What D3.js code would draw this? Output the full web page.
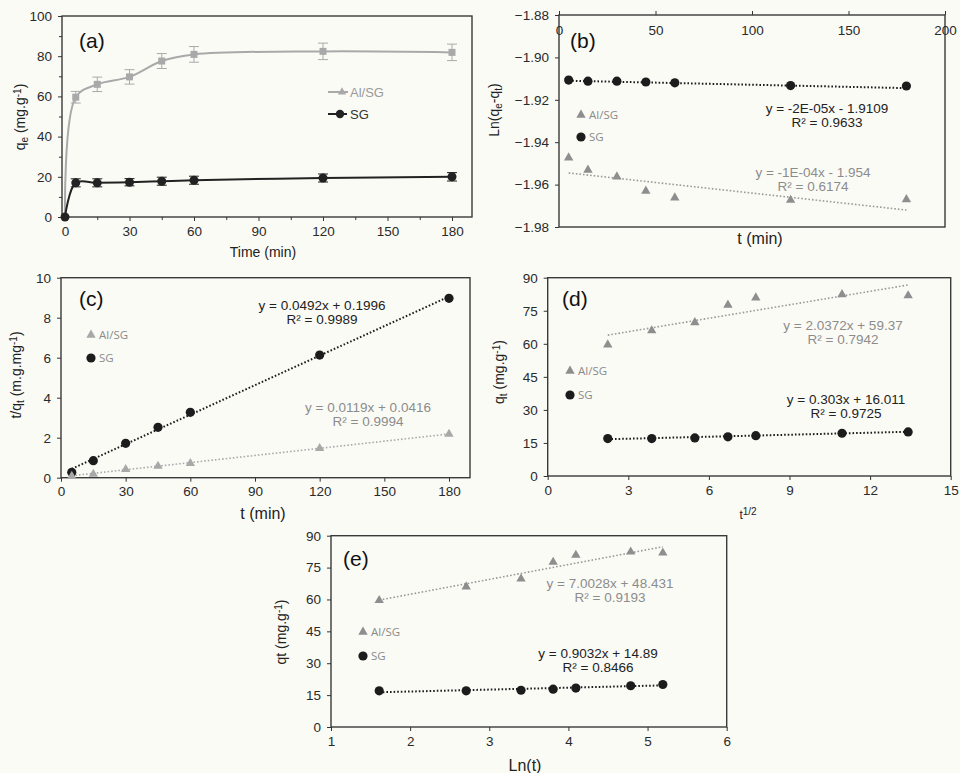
<!DOCTYPE html>
<html>
<head>
<meta charset="utf-8">
<title>Adsorption kinetics Al/SG vs SG</title>
<script src="https://d3js.org/d3.v7.min.js"></script>
<style>
  body { margin: 0; background: #fbfbf6; }
  svg { display: block; font-family: "Liberation Sans", Arial, sans-serif; }
  .tick text { font-size: 13.5px; fill: #2a2a2a; }
  .tick line { stroke: #333; }
  .frame { fill: none; stroke: #3a3a3a; stroke-width: 1.4; }
  .atitle { font-size: 14px; fill: #222; }
  .plabel { font-size: 21px; fill: #111; }
  .leg { font-family: "Open Sans", sans-serif; font-size: 11.5px; fill: #8a8a8a; }
  .eq { font-size: 13.5px; text-anchor: middle; }
</style>
</head>
<body>
<svg width="960" height="773"></svg>
<script>
// ---- data ----
// (a) contact time
const tMin  = [0, 5, 15, 30, 45, 60, 120, 180];
const qAl   = [0, 59.6, 66, 69.7, 77.6, 80.9, 82.4, 81.9];
const qSG   = [0, 17, 17, 17.3, 17.8, 18.3, 19.4, 20];
const errAl = [0, 2.9, 3.6, 3.6, 3.7, 3.9, 4.1, 4.1];
const errSG = [0, 2, 2, 1.8, 2, 2, 2, 2.1];

// kinetic models (t > 0)
const tFit  = [5, 15, 30, 45, 60, 120, 180];
const lnAl  = [-1.9473, -1.9531, -1.9563, -1.963, -1.9662, -1.9673, -1.967];
const lnSG  = [-1.9107, -1.9112, -1.9112, -1.9116, -1.912, -1.9133, -1.9135];
const tqAl  = [0.08, 0.18, 0.42, 0.58, 0.72, 1.47, 2.18];
const tqSG  = [0.27, 0.85, 1.72, 2.52, 3.27, 6.13, 8.97];
const sqrtT = [2.236, 3.873, 5.477, 6.708, 7.746, 10.954, 13.416];
const lnT   = [1.609, 2.708, 3.401, 3.807, 4.094, 4.787, 5.193];
const qtAl  = [59.6, 66, 69.7, 77.6, 80.9, 82.4, 81.9];
const qtSG  = [17, 17, 17.3, 17.8, 18.3, 19.4, 20];

// trend lines: [slope, intercept] as printed
const fitB = { al: [-1e-4, -1.954],  sg: [-2e-5, -1.9109] };
const fitC = { al: [0.0119, 0.0416], sg: [0.0492, 0.1996] };
const fitD = { al: [2.0372, 59.37],  sg: [0.303, 16.011] };
const fitE = { al: [7.0028, 48.431], sg: [0.9032, 14.89] };

const eqB = { al: ["y = -1E-04x - 1.954", "R² = 0.6174"], sg: ["y = -2E-05x - 1.9109", "R² = 0.9633"] };
const eqC = { al: ["y = 0.0119x + 0.0416", "R² = 0.9994"], sg: ["y = 0.0492x + 0.1996", "R² = 0.9989"] };
const eqD = { al: ["y = 2.0372x + 59.37", "R² = 0.7942"], sg: ["y = 0.303x + 16.011", "R² = 0.9725"] };
const eqE = { al: ["y = 7.0028x + 48.431", "R² = 0.9193"], sg: ["y = 0.9032x + 14.89", "R² = 0.8466"] };

const seriesNames = ["Al/SG", "SG"];

const AL_COL = "#8e8e8e", SG_COL = "#1c1c1c";
const svg = d3.select("svg");

// axis frame + ticks helper
function frame(box, x, y, o) {
  const g = svg.append("g");
  g.append("rect").attr("class", "frame")
    .attr("x", box[0]).attr("y", box[1])
    .attr("width", box[2] - box[0]).attr("height", box[3] - box[1]);
  const xa = (o.top ? d3.axisTop(x) : d3.axisBottom(x))
    .tickValues(o.xt).tickSize(4).tickSizeOuter(0).tickPadding(5)
    .tickFormat(o.xf || d3.format("d"));
  const gx = g.append("g").attr("transform", `translate(0,${o.top ? box[1] : box[3]})`).call(xa);
  gx.select(".domain").remove();
  if (o.top) gx.selectAll("text").attr("y", 10).attr("dy", "0.71em");
  const ya = d3.axisLeft(y).tickValues(o.yt).tickSize(4).tickSizeOuter(0).tickPadding(6)
    .tickFormat(o.yf || d3.format("d"));
  const gy = g.append("g").attr("transform", `translate(${box[0]},0)`).call(ya);
  gy.select(".domain").remove();
  if (o.xm) {
    const m = g.append("g").attr("transform", `translate(0,${box[3]})`)
      .call(d3.axisBottom(x).tickValues(o.xm).tickSize(3).tickFormat(""));
    m.select(".domain").remove();
  }
  if (o.ym) {
    const m = g.append("g").attr("transform", `translate(${box[0]},0)`)
      .call(d3.axisLeft(y).tickValues(o.ym).tickSize(3).tickFormat(""));
    m.select(".domain").remove();
  }
  return g;
}

function yTitle(cx, cy, parts) {
  const t = svg.append("text").attr("class", "atitle")
    .attr("transform", `translate(${cx},${cy}) rotate(-90)`)
    .attr("text-anchor", "middle").attr("dy", "0.35em");
  parts.forEach(p => {
    const s = t.append("tspan").text(p[0]);
    if (p[1] === "sub") s.attr("font-size", "10px").attr("baseline-shift", "-25%");
    if (p[1] === "sup") s.attr("font-size", "10px").attr("baseline-shift", "40%");
  });
}
function xTitle(cx, cy, txt, size) {
  svg.append("text").attr("class", "atitle").attr("x", cx).attr("y", cy)
    .attr("text-anchor", "middle").style("font-size", (size || 14) + "px").text(txt);
}
function panelLabel(x0, y0, txt) {
  svg.append("text").attr("class", "plabel").attr("x", x0).attr("y", y0).text(txt);
}

const tri = d3.symbol(d3.symbolTriangle, 38);

function scatter(x, y, xs, ys, kind, col) {
  xs.forEach((v, i) => {
    if (kind === "tri") {
      svg.append("path").attr("d", tri())
        .attr("transform", `translate(${x(v)},${y(ys[i])})`).attr("fill", col);
    } else {
      svg.append("circle").attr("cx", x(v)).attr("cy", y(ys[i])).attr("r", 4.6).attr("fill", col);
    }
  });
}
function trend(x, y, xs, fit, col, w) {
  const a = d3.min(xs), b = d3.max(xs);
  svg.append("line")
    .attr("x1", x(a)).attr("y1", y(fit[0] * a + fit[1]))
    .attr("x2", x(b)).attr("y2", y(fit[0] * b + fit[1]))
    .attr("stroke", col).attr("stroke-width", w).attr("stroke-dasharray", "1.6,2");
}
function equation(cx, cy, lines, col) {
  lines.forEach((l, i) => {
    svg.append("text").attr("class", "eq").attr("x", cx).attr("y", cy + i * 14)
      .attr("fill", col).text(l);
  });
}
function legend(x0, y0, gap, alCol) {
  svg.append("path").attr("d", tri()).attr("transform", `translate(${x0},${y0})`).attr("fill", alCol);
  svg.append("text").attr("class", "leg").attr("x", x0 + 8).attr("y", y0).attr("dy", "0.35em").text(seriesNames[0]);
  svg.append("circle").attr("cx", x0).attr("cy", y0 + gap).attr("r", 4.6).attr("fill", SG_COL);
  svg.append("text").attr("class", "leg").attr("x", x0 + 8).attr("y", y0 + gap).attr("dy", "0.35em").text(seriesNames[1]);
}

// ---------- (a) ----------
{
  const x = d3.scaleLinear().domain([0, 180]).range([65, 452]);
  const y = d3.scaleLinear().domain([0, 100]).range([217, 16]);
  frame([62, 16, 472, 217], x, y, {
    xt: d3.range(0, 181, 30), xm: d3.range(15, 190, 30),
    yt: d3.range(0, 101, 20), ym: d3.range(10, 100, 20)
  });
  const line = d3.line().x((d, i) => x(tMin[i])).y(d => y(d)).curve(d3.curveCatmullRom.alpha(0.5));
  [[qAl, errAl, "#a9a9a9"], [qSG, errSG, "#222"]].forEach(([q, e, col]) => {
    svg.append("path").attr("d", line(q)).attr("fill", "none").attr("stroke", col).attr("stroke-width", 2);
    q.forEach((v, i) => {
      if (!e[i]) return;
      const cx = x(tMin[i]);
      svg.append("path")
        .attr("d", `M${cx - 5},${y(v + e[i])}H${cx + 5}M${cx},${y(v + e[i])}V${y(v - e[i])}M${cx - 5},${y(v - e[i])}H${cx + 5}`)
        .attr("stroke", col).attr("stroke-width", 1).attr("fill", "none");
    });
  });
  qAl.forEach((v, i) => {
    if (i === 0) return;
    svg.append("rect").attr("x", x(tMin[i]) - 3.5).attr("y", y(v) - 3.5)
      .attr("width", 7).attr("height", 7).attr("fill", "#a9a9a9");
  });
  qSG.forEach((v, i) => {
    svg.append("circle").attr("cx", x(tMin[i])).attr("cy", y(v)).attr("r", 4.5).attr("fill", "#222");
  });
  // legend
  svg.append("line").attr("x1", 328).attr("x2", 348).attr("y1", 92).attr("y2", 92).attr("stroke", "#a9a9a9").attr("stroke-width", 2);
  svg.append("path").attr("d", d3.symbol(d3.symbolTriangle, 30)()).attr("transform", "translate(342,92)").attr("fill", "#a9a9a9");
  svg.append("text").attr("x", 350).attr("y", 92).attr("dy", "0.35em").style("font-size", "13px").attr("fill", "#9a9a9a").text(seriesNames[0]);
  svg.append("line").attr("x1", 328).attr("x2", 347).attr("y1", 114).attr("y2", 114).attr("stroke", "#222").attr("stroke-width", 2);
  svg.append("circle").attr("cx", 340).attr("cy", 114).attr("r", 4.2).attr("fill", "#222");
  svg.append("text").attr("x", 350).attr("y", 114).attr("dy", "0.35em").style("font-size", "13px").attr("fill", "#333").text(seriesNames[1]);
  yTitle(20, 117, [["q"], ["e", "sub"], [" (mg.g"], ["-1", "sup"], [")"]]);
  xTitle(263, 257, "Time (min)");
  panelLabel(79, 48, "(a)");
}

// ---------- (b) ----------
{
  const x = d3.scaleLinear().domain([0, 200]).range([559, 945]);
  const y = d3.scaleLinear().domain([-1.98, -1.88]).range([227, 15]);
  frame([559, 15, 945, 227], x, y, {
    top: true, xt: d3.range(0, 201, 50),
    yt: d3.range(-1.98, -1.879, 0.02), yf: d3.format(".2f")
  });
  trend(x, y, tFit, fitB.sg, SG_COL, 2);
  trend(x, y, tFit, fitB.al, "#9a9a9a", 1.6);
  scatter(x, y, tFit, lnSG, "dot", SG_COL);
  scatter(x, y, tFit, lnAl, "tri", AL_COL);
  equation(827, 113, eqB.sg, "#222");
  equation(813, 177, eqB.al, "#8c8c8c");
  legend(581, 115, 22, AL_COL);
  yTitle(494, 110, [["Ln(q"], ["e", "sub"], ["-q"], ["t", "sub"], [")"]]);
  xTitle(760, 244, "t (min)", 16);
  panelLabel(570, 48, "(b)");
}

// ---------- (c) ----------
{
  const x = d3.scaleLinear().domain([0, 180]).range([61, 449]);
  const y = d3.scaleLinear().domain([0, 10]).range([477.7, 277.7]);
  frame([61, 277.7, 470, 477.7], x, y, {
    xt: d3.range(0, 181, 30), yt: d3.range(0, 11, 2)
  });
  trend(x, y, tFit, fitC.sg, SG_COL, 2);
  trend(x, y, tFit, fitC.al, "#aaaaaa", 1.6);
  scatter(x, y, tFit, tqSG, "dot", SG_COL);
  scatter(x, y, tFit, tqAl, "tri", "#a8a8a8");
  equation(322, 310, eqC.sg, "#222");
  equation(368, 412, eqC.al, "#8c8c8c");
  legend(91, 335, 23, "#a8a8a8");
  yTitle(16, 375, [["t/q"], ["t", "sub"], [" (m.g.mg"], ["-1", "sup"], [")"]]);
  xTitle(263, 519, "t (min)", 16);
  panelLabel(79, 306, "(c)");
}

// ---------- (d) ----------
{
  const x = d3.scaleLinear().domain([0, 15]).range([547.7, 950.7]);
  const y = d3.scaleLinear().domain([0, 90]).range([476, 277.7]);
  frame([547.7, 277.7, 950.7, 476], x, y, {
    xt: d3.range(0, 16, 3), yt: d3.range(0, 91, 15)
  });
  trend(x, y, sqrtT, fitD.sg, SG_COL, 2);
  trend(x, y, sqrtT, fitD.al, "#9a9a9a", 1.6);
  scatter(x, y, sqrtT, qtSG, "dot", SG_COL);
  scatter(x, y, sqrtT, qtAl, "tri", AL_COL);
  equation(846, 404, eqD.sg, "#222");
  equation(843, 330, eqD.al, "#8c8c8c");
  legend(570, 371, 24, AL_COL);
  yTitle(499, 372, [["q"], ["t", "sub"], [" (mg.g"], ["-1", "sup"], [")"]]);
  const xt = svg.append("text").attr("class", "atitle").attr("x", 748).attr("y", 519)
    .attr("text-anchor", "middle").style("font-size", "12px");
  xt.append("tspan").text("t");
  xt.append("tspan").attr("font-size", "10px").attr("baseline-shift", "45%").text("1/2");
  panelLabel(562, 306, "(d)");
}

// ---------- (e) ----------
{
  const x = d3.scaleLinear().domain([1, 6]).range([331, 726.7]);
  const y = d3.scaleLinear().domain([0, 90]).range([727, 535.7]);
  frame([331, 535.7, 726.7, 727], x, y, {
    xt: d3.range(1, 7, 1), yt: d3.range(0, 91, 15)
  });
  trend(x, y, lnT, fitE.sg, SG_COL, 2);
  trend(x, y, lnT, fitE.al, "#9a9a9a", 1.6);
  scatter(x, y, lnT, qtSG, "dot", SG_COL);
  scatter(x, y, lnT, qtAl, "tri", AL_COL);
  equation(598, 658, eqE.sg, "#222");
  equation(610, 588, eqE.al, "#8c8c8c");
  legend(363, 632, 24, AL_COL);
  yTitle(281, 632, [["qt (mg.g"], ["-1", "sup"], [")"]]);
  xTitle(525, 771, "Ln(t)", 16);
  panelLabel(343, 566, "(e)");
}
</script>
</body>
</html>
